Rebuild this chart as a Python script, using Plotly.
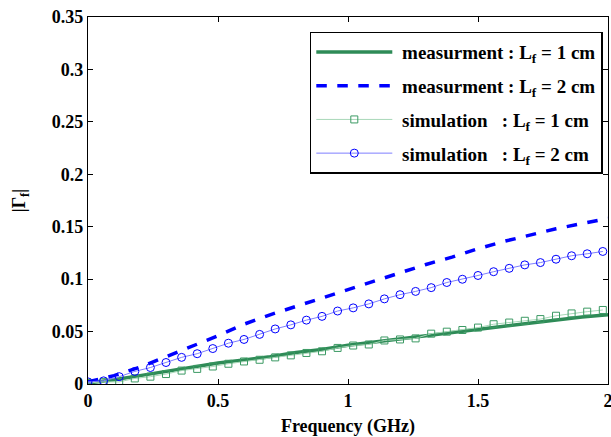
import plotly.graph_objects as go

# Measurement grid (GHz)
freq_meas = [0.0, 0.1, 0.2, 0.3, 0.4, 0.5, 0.6, 0.7, 0.8, 0.9, 1.0,
             1.1, 1.2, 1.3, 1.4, 1.5, 1.6, 1.7, 1.8, 1.9, 2.0]
meas_1cm = [0.001, 0.004, 0.008, 0.012, 0.016, 0.020, 0.023, 0.026, 0.030, 0.033, 0.037,
            0.040, 0.043, 0.046, 0.049, 0.052, 0.055, 0.058, 0.061, 0.064, 0.066]
meas_2cm = [0.002, 0.008, 0.016, 0.026, 0.036, 0.046, 0.057, 0.066, 0.074, 0.082, 0.090,
            0.098, 0.106, 0.114, 0.121, 0.129, 0.136, 0.142, 0.148, 0.153, 0.158]

# Simulation grid (GHz)
freq_sim = [0.00, 0.06, 0.12, 0.18, 0.24, 0.30, 0.36, 0.42, 0.48, 0.54, 0.60, 0.66,
            0.72, 0.78, 0.84, 0.90, 0.96, 1.02, 1.08, 1.14, 1.20, 1.26, 1.32, 1.38,
            1.44, 1.50, 1.56, 1.62, 1.68, 1.74, 1.80, 1.86, 1.92, 1.98]
sim_1cm = [0.001, 0.002, 0.002, 0.0053, 0.007, 0.0095, 0.0128, 0.0144, 0.0167, 0.0193,
           0.0215, 0.0231, 0.0254, 0.0273, 0.0296, 0.0312, 0.0344, 0.0367, 0.0377, 0.0415,
           0.0425, 0.0435, 0.048, 0.0499, 0.0515, 0.0538, 0.057, 0.0586, 0.0603, 0.0619,
           0.0651, 0.0673, 0.069, 0.0706]
sim_2cm = [0.002, 0.003, 0.007, 0.012, 0.0157, 0.0205, 0.0254, 0.0289, 0.0338, 0.0389,
           0.0425, 0.0473, 0.0525, 0.0564, 0.0609, 0.0645, 0.0696, 0.0726, 0.0764, 0.0812,
           0.0852, 0.0883, 0.0919, 0.0968, 0.0999, 0.1035, 0.1071, 0.1103, 0.1136, 0.1158,
           0.119, 0.1223, 0.1242, 0.1264]

x_ticks = [0, 0.5, 1, 1.5, 2]
x_tick_labels = ["0", "0.5", "1", "1.5", "2"]
y_ticks = [0, 0.05, 0.1, 0.15, 0.2, 0.25, 0.3, 0.35]
y_tick_labels = ["0", "0.05", "0.1", "0.15", "0.2", "0.25", "0.3", "0.35"]

FONT = "Liberation Serif"
GREEN = "#2E8B57"
BLUE = "#0000FF"
NB = "\u00a0"

fig = go.Figure()
fig.add_trace(go.Scatter(
    x=freq_meas, y=meas_1cm, mode="lines",
    line=dict(color=GREEN, width=3.5),
    name=NB + "measurment : L<sub>f</sub> = 1 cm", legendgroup="a"))
fig.add_trace(go.Scatter(
    x=freq_meas, y=meas_2cm, mode="lines",
    line=dict(color=BLUE, width=3.5, dash="dash"),
    name=NB + "measurment : L<sub>f</sub> = 2 cm", legendgroup="b"))
fig.add_trace(go.Scatter(
    x=freq_sim, y=sim_1cm, mode="lines+markers",
    line=dict(color="#A8D8B8", width=1),
    marker=dict(symbol="square-open", size=7, color="#3C9A64", line=dict(width=1)),
    name=NB + "simulation" + NB * 3 + ": L<sub>f</sub> = 1 cm", legendgroup="c"))
fig.add_trace(go.Scatter(
    x=freq_sim, y=sim_2cm, mode="lines+markers",
    line=dict(color="#7F7FFF", width=1),
    marker=dict(symbol="circle-open", size=8, color=BLUE, line=dict(width=1)),
    name=NB + "simulation" + NB * 3 + ": L<sub>f</sub> = 2 cm", legendgroup="d"))

axis_common = dict(
    showgrid=False, zeroline=False, showline=True, linecolor="black", linewidth=1.2,
    mirror="ticks", ticks="inside", ticklen=5, tickcolor="black", tickwidth=1.2,
    tickfont=dict(family=FONT, size=18, color="black", weight="bold"),
    automargin=False, ticklabeloverflow="allow",
)

fig.update_layout(
    width=611, height=437,
    margin=dict(l=88, r=3, t=17, b=53),
    paper_bgcolor="white", plot_bgcolor="white",
    xaxis=dict(range=[0, 2], tickvals=x_ticks, ticktext=x_tick_labels,
               title=dict(text="Frequency (GHz)", standoff=14,
                          font=dict(family=FONT, size=18, color="black", weight="bold")),
               **axis_common),
    yaxis=dict(range=[0, 0.35], tickvals=y_ticks, ticktext=y_tick_labels,
               title=dict(text="|\u0393<sub>f</sub>|", standoff=21,
                          font=dict(family=FONT, size=18, color="black", weight="bold")),
               **axis_common),
    legend=dict(x=0.99, y=0.96, xanchor="right", yanchor="top",
                bgcolor="white", bordercolor="black", borderwidth=1.5,
                font=dict(family=FONT, size=19, color="black", weight="bold"),
                itemwidth=76, tracegroupgap=6, traceorder="grouped"),
    showlegend=True,
)

# remove the page's default body margin so the figure fills the window exactly
fig.write_html(
    "out.html",
    config={"displayModeBar": False},
    post_script="document.body.style.margin='0';document.body.style.overflow='hidden';",
)
